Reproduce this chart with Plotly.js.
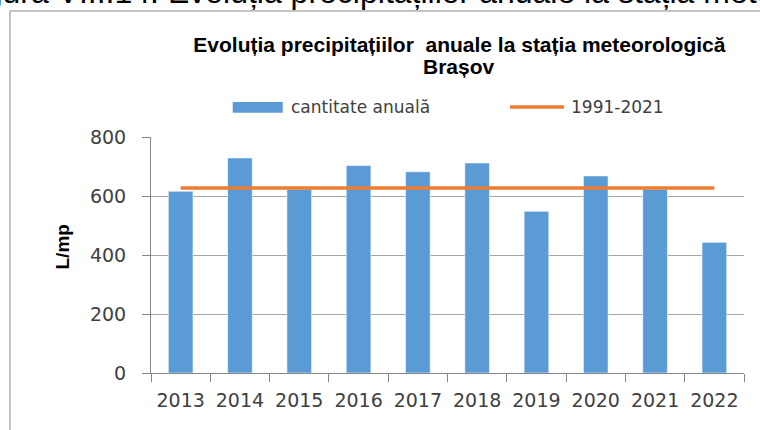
<!DOCTYPE html>
<html>
<head>
<meta charset="utf-8">
<script src="https://cdn.plot.ly/plotly-3.0.1.min.js"></script>
<style>html,body{margin:0;padding:0;background:#fff;}#chart{width:760px;height:430px;}</style>
</head>
<body>
<div id="chart"></div>
<script>
// Data
const years = ["2013","2014","2015","2016","2017","2018","2019","2020","2021","2022"];
const annualAmount = [616, 729, 623, 703, 682, 712, 548, 668, 623, 443];
const normal19912021 = [627, 627, 627, 627, 627, 627, 627, 627, 627, 627];
const yTicks = [0, 200, 400, 600, 800];
const seriesNames = ["cantitate anuală", "1991-2021"];

const tickFont = {family: "DejaVu Sans, Liberation Sans, Arial, sans-serif", size: 19, color: "#404040"};
const legendFont = {family: "DejaVu Sans, Liberation Sans, Arial, sans-serif", size: 17, color: "#404040"};
const titleFont = {family: "Liberation Sans, Arial, sans-serif", size: 21, color: "#000000", weight: "bold"};

const traces = [
  {
    type: "bar", x: years, y: annualAmount, name: seriesNames[0],
    marker: {color: "#5B9BD5", line: {color: "rgba(255,255,255,0.55)", width: 1}},
    hoverinfo: "skip", showlegend: false
  },
  {
    type: "scatter", mode: "lines", x: years, y: normal19912021, name: seriesNames[1],
    line: {color: "#ED7D31", width: 3.5},
    hoverinfo: "skip", showlegend: false
  }
];

const layout = {
  width: 760, height: 430,
  margin: {l: 151, r: 16, t: 137, b: 57},
  paper_bgcolor: "#ffffff", plot_bgcolor: "#ffffff",
  bargap: 0.584,
  showlegend: false,
  title: {
    text: "Evoluția precipitațiilor\u00a0 anuale la stația meteorologică",
    font: titleFont,
    x: 0.52, xref: "paper", xanchor: "center",
    y: 0.913, yref: "container", yanchor: "top"
  },
  xaxis: {
    type: "category", tickson: "boundaries", ticks: "outside", ticklen: 8, tickcolor: "#868686",
    showline: true, linecolor: "#868686", linewidth: 1, showgrid: false,
    tickfont: tickFont, tickangle: 0, ticklabelstandoff: 10, fixedrange: true
  },
  yaxis: {
    range: [0, 800], tickvals: yTicks, ticks: "outside", ticklen: 8, tickcolor: "#868686",
    showline: true, linecolor: "#868686", linewidth: 1,
    showgrid: true, gridcolor: "#A6A6A6", gridwidth: 1, zeroline: false,
    tickfont: tickFont, ticklabelstandoff: 12, fixedrange: true
  },
  shapes: [
    {type: "rect", xref: "paper", yref: "paper", x0: -0.2378, x1: 1.06, y0: -0.35, y1: 1.534,
     line: {color: "#8a8a8a", width: 1}, fillcolor: "rgba(0,0,0,0)", layer: "below"},
    {type: "rect", xref: "paper", yref: "paper", x0: 0.1378, x1: 0.2221, y0: 1.103, y1: 1.1483,
     line: {width: 0}, fillcolor: "#5B9BD5"},
    {type: "line", xref: "paper", yref: "paper", x0: 0.6054, x1: 0.6965, y0: 1.1271, y1: 1.1271,
     line: {color: "#ED7D31", width: 3.5}}
  ],
  annotations: [
    {text: "<b>Brașov</b>", xref: "paper", yref: "paper", x: 0.52, y: 1.3008,
     xanchor: "center", yanchor: "middle", showarrow: false,
     font: {family: "Liberation Sans, Arial, sans-serif", size: 21, color: "#000000"}},
    {text: seriesNames[0], xref: "paper", yref: "paper", x: 0.2327, y: 1.1271,
     xanchor: "left", yanchor: "middle", showarrow: false, font: legendFont},
    {text: seriesNames[1], xref: "paper", yref: "paper", x: 0.7049, y: 1.1271,
     xanchor: "left", yanchor: "middle", showarrow: false, font: legendFont},
    {text: "<b>L/mp</b>", xref: "paper", yref: "paper", x: -0.1492, y: 0.534, textangle: -90,
     xanchor: "center", yanchor: "middle", showarrow: false,
     font: {family: "Liberation Sans, Arial, sans-serif", size: 19, color: "#000000"}},
    {text: "Figura VIII.14. Evoluția precipitațiilor anuale la stația meteorologică Brașov",
     xref: "paper", yref: "paper", x: -0.3295, y: 1.616, xanchor: "left", yanchor: "middle",
     showarrow: false, font: {family: "Liberation Sans, Arial, sans-serif", size: 32, color: "#000000"}}
  ]
};

Plotly.newPlot("chart", traces, layout, {staticPlot: true, displayModeBar: false});
</script>
</body>
</html>
